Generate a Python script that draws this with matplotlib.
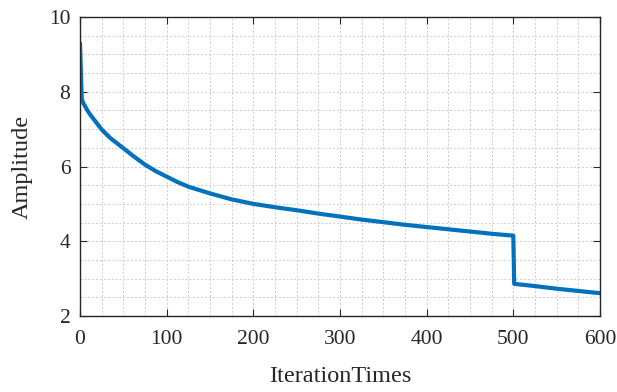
import matplotlib.pyplot as plt
from matplotlib.ticker import MultipleLocator

# values
iters = [0, 2, 4, 8, 12, 18, 25, 35, 50, 62, 75, 87, 100, 112, 125, 150, 175, 200,
         225, 250, 275, 300, 325, 350, 375, 400, 425, 450, 475, 500, 501,
         525, 550, 575, 600]
amplitude = [9.28, 7.8, 7.69, 7.52, 7.38, 7.2, 6.99, 6.76, 6.49, 6.27, 6.05, 5.88, 5.73, 5.59, 5.46, 5.28, 5.12, 5.0,
             4.91, 4.83, 4.74, 4.66, 4.58, 4.51, 4.44, 4.38, 4.32, 4.26, 4.2, 4.15, 2.86,
             2.8, 2.73, 2.67, 2.61]

xticks = [0, 100, 200, 300, 400, 500, 600]
yticks = [2, 4, 6, 8, 10]

plt.rcParams['font.family'] = ['Liberation Serif', 'DejaVu Serif']
txt = '#262626'

fig = plt.figure(figsize=(6.17, 3.92), dpi=100)
ax = fig.add_axes([0.1297, 0.1939, 0.8427, 0.7627])

ax.plot(iters, amplitude, color='#0072bd', lw=3, solid_joinstyle='round')

ax.set_xlim(0, 600)
ax.set_ylim(2, 10)
ax.set_xticks(xticks)
ax.set_yticks(yticks)
ax.xaxis.set_minor_locator(MultipleLocator(25))
ax.yaxis.set_minor_locator(MultipleLocator(0.5))

ax.grid(which='both', color='#cccccc', linestyle=(0, (2, 2)), lw=0.7)
ax.set_axisbelow(True)
ax.tick_params(which='major', direction='in', length=5, top=True, right=True,
               labelsize=15.5, colors=txt, width=0.8)
ax.tick_params(axis='x', which='major', pad=10)
ax.tick_params(axis='y', which='major', pad=7)
ax.tick_params(which='minor', length=0)
for s in ax.spines.values():
    s.set_color(txt)
    s.set_linewidth(1.0)

ax.set_xlabel('IterationTimes', fontsize=17.5, color=txt)
ax.set_ylabel('Amplitude', fontsize=17.5, color=txt)
ax.xaxis.set_label_coords(0.5, -0.167)
ax.yaxis.set_label_coords(-0.09, 0.5)

fig.savefig('out.png', dpi=100)
